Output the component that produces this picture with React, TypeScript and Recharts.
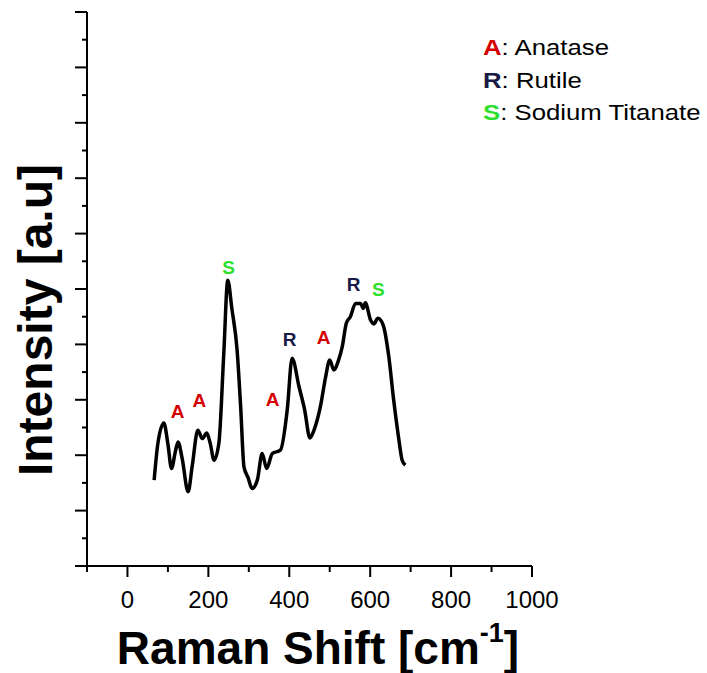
import React from "react";
import { ComposedChart, Line, Scatter, XAxis, YAxis } from "recharts";

const ramanShift = [66, 75, 90, 100, 109, 118, 125, 135, 150, 160, 174, 185, 196, 205, 214, 226, 238, 248, 258, 271, 280, 288, 298, 308, 321, 333, 344, 358, 378, 395, 407, 424, 438, 451, 461, 477, 490, 500, 510, 522, 531, 541, 551, 564, 576, 583, 588, 601, 609, 619, 632, 646, 658, 670, 679, 687];
const intensity = [1.55, 2.2, 2.58, 2.2, 1.76, 2.05, 2.24, 1.95, 1.34, 1.8, 2.45, 2.3, 2.4, 2.2, 1.91, 2.22, 3.82, 5.16, 4.65, 3.9, 2.85, 1.79, 1.6, 1.4, 1.55, 2.03, 1.76, 2.03, 2.09, 2.82, 3.75, 3.24, 2.82, 2.31, 2.45, 2.88, 3.42, 3.72, 3.54, 3.72, 3.96, 4.38, 4.5, 4.74, 4.74, 4.65, 4.75, 4.44, 4.37, 4.47, 4.35, 3.78, 3.0, 2.33, 1.91, 1.82];

const annoLetter = ["A", "A", "S", "A", "R", "A", "R", "S"];
const annoX = [124, 178, 250, 359, 401, 485, 559, 620];
const annoY = [2.8, 3.0, 5.4, 3.01, 4.1, 4.13, 5.09, 5.0];

const xTicks = [-100, 0, 100, 200, 300, 400, 500, 600, 700, 800, 900, 1000];
const yTicks = [0, 0.5, 1, 1.5, 2, 2.5, 3, 3.5, 4, 4.5, 5, 5.5, 6, 6.5, 7, 7.5, 8, 8.5, 9, 9.5, 10];

const legendLetters = ["A", "R", "S"];
const legendNames = ["Anatase", "Rutile", "Sodium Titanate"];

const phaseColor: Record<string, string> = { A: "#d40000", R: "#1a1a46", S: "#2ee02e" };

const lineData = ramanShift.map((x, i) => ({ x, y: intensity[i] }));
const annoData = annoLetter.map((l, i) => ({ x: annoX[i], y: annoY[i], l }));

const FONT = "'Liberation Sans', Arial, sans-serif";

const XTick = (props: any) => {
  const { x, y, payload } = props;
  const v = payload.value;
  const major = v % 200 === 0;
  return (
    <g>
      <line x1={x} x2={x} y1={y} y2={y + (major ? 11 : 6)} stroke="#000" strokeWidth={2} />
      {major && (
        <text x={x} y={y + 42} textAnchor="middle" fontSize={24} fontFamily={FONT} fill="#000">
          {v}
        </text>
      )}
    </g>
  );
};

const YTick = (props: any) => {
  const { x, y, payload } = props;
  const major = Number.isInteger(payload.value);
  return <line x1={x} x2={x - (major ? 12 : 5)} y1={y} y2={y} stroke="#000" strokeWidth={2} />;
};

const AnnoShape = (props: any) => {
  const { cx, cy, payload } = props;
  return (
    <text x={cx} y={cy} dy="0.36em" textAnchor="middle" fontSize={19} fontWeight="bold" fontFamily={FONT} fill={phaseColor[payload.l]}>
      {payload.l}
    </text>
  );
};

export default function App() {
  return (
    <div style={{ position: "absolute", left: 0, top: 0, width: 707, height: 673, background: "#fff", overflow: "hidden" }}>
      <ComposedChart width={707} height={673} margin={{ top: 12, right: 175, bottom: 77, left: 67 }}>
        <XAxis
          type="number"
          dataKey="x"
          domain={[-100, 1000]}
          ticks={xTicks}
          interval={0}
          height={30}
          tickSize={0}
          tickMargin={0}
          tickLine={false}
          tick={<XTick />}
          axisLine={{ stroke: "#000", strokeWidth: 2 }}
          allowDataOverflow
        />
        <YAxis
          type="number"
          dataKey="y"
          domain={[0, 10]}
          ticks={yTicks}
          interval={0}
          width={20}
          tickSize={0}
          tickMargin={0}
          tickLine={false}
          tick={<YTick />}
          axisLine={{ stroke: "#000", strokeWidth: 2 }}
          allowDataOverflow
        />
        <Line data={lineData} dataKey="y" type="monotone" stroke="#000" strokeWidth={3.5} dot={false} isAnimationActive={false} />
        <Scatter data={annoData} dataKey="y" shape={<AnnoShape />} isAnimationActive={false} />
      </ComposedChart>
      <svg width={707} height={673} style={{ position: "absolute", left: 0, top: 0, pointerEvents: "none" }}>
        <text x={52} y={320} transform="rotate(-90, 52, 320)" textAnchor="middle" fontSize={48} fontWeight="bold" fontFamily={FONT} fill="#000">
          Intensity [a.u]
        </text>
        <text x={318} y={664} textAnchor="middle" fontSize={46} fontWeight="bold" fontFamily={FONT} fill="#000">
          Raman Shift [cm
          <tspan fontSize={27} dy={-22}>-1</tspan>
          <tspan dy={22}>]</tspan>
        </text>
        {legendLetters.map((l, i) => (
          <text key={l} x={0} y={0} transform={`translate(483, ${55 + i * 32.5}) scale(1.12, 1)`} fontSize={23} fontFamily={FONT} fill="#000">
            <tspan fontWeight="bold" fill={phaseColor[l]}>{l}</tspan>
            <tspan>: {legendNames[i]}</tspan>
          </text>
        ))}
      </svg>
    </div>
  );
}
